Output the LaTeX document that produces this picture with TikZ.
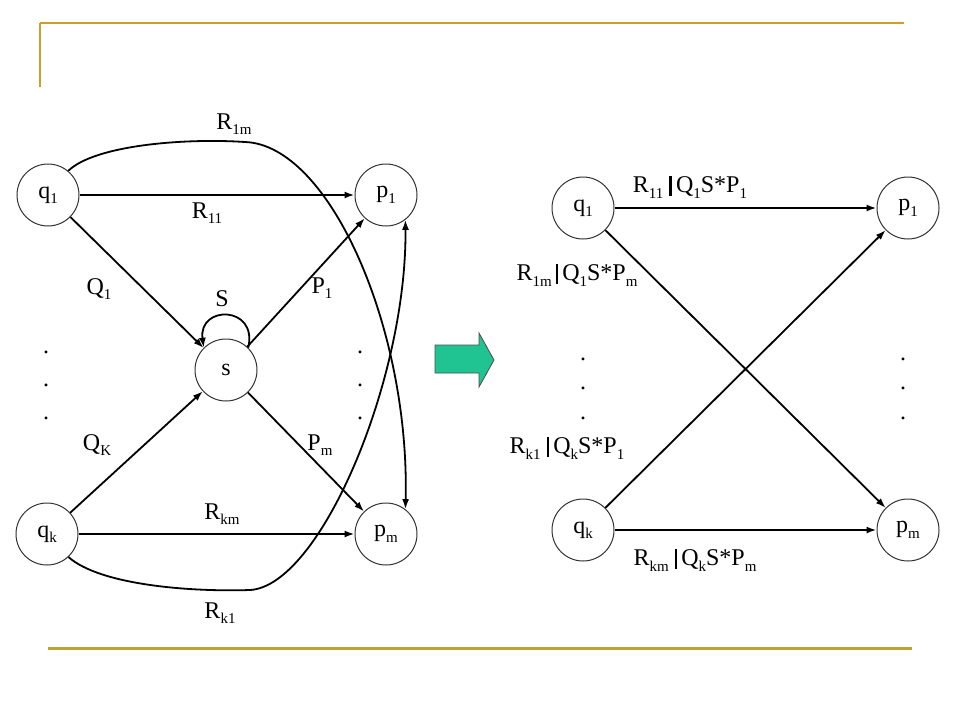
\documentclass[tikz,border=0pt]{standalone}
\usepackage{fontspec}
\setmainfont{Liberation Serif}
\usetikzlibrary{arrows.meta}
\definecolor{gold}{RGB}{201,160,40}
\definecolor{olive}{RGB}{190,162,50}
\definecolor{jade}{RGB}{32,196,146}
\newcommand{\lo}[1]{\raisebox{-0.5ex}{\fontsize{15}{15}\selectfont #1}}
\newcommand{\sepbar}{\rule[-0.15em]{2.6pt}{0.85em}}

\begin{document}
\begin{tikzpicture}[x=1pt,y=-1pt,font=\fontsize{24}{28}\selectfont,
  vertex/.style={circle,draw=black!80,line width=1pt,minimum size=62pt,inner sep=0pt},
  edge/.style={-{Latex[length=10pt,width=7pt]},line width=1.8pt}]
  \useasboundingbox (0,0) rectangle (960,720);

  % frame lines
  \draw[gold,line width=2.5pt] (40,23) -- (904,23);
  \draw[gold,line width=1.5pt] (40,23) -- (40,87);
  \draw[olive,line width=3pt] (48,648) -- (912,648);

  % left graph
  \node[vertex] (q1) at (48,195) {q\lo{1}};
  \node[vertex] (p1) at (386,195) {p\lo{1}};
  \node[vertex] (s) at (226,370) {s};
  \node[vertex] (qk) at (47,534) {q\lo{k}};
  \node[vertex] (pm) at (386,534) {p\lo{m}};

  \node (r1m) at (234,124) {R\lo{1m}};
  \node (r11) at (207,213) {R\lo{11}};
  \node (lq1) at (99,289) {Q\lo{1}};
  \node (ls) at (222,299) {S};
  \node (lp1) at (322,288) {P\lo{1}};
  \node (lqk) at (97,445) {Q\lo{K}};
  \node (lpm) at (320,445) {P\lo{m}};
  \node (rkm) at (222,514) {R\lo{km}};
  \node (rk1) at (220,613) {R\lo{k1}};

  \foreach \y [count=\i] in {352,385,418} {
    \node (dl\i) at (46,\y) {.};
    \node (dr\i) at (360,\y) {.};
  }

  \draw[edge] (q1) -- (p1);
  \draw[edge] (q1) -- (s);
  \draw[edge] (s) -- (p1);
  \draw[edge] (qk) -- (s);
  \draw[edge] (s) -- (pm);
  \draw[edge] (qk) -- (pm);
  \draw[edge] (s.45) .. controls (258,305) and (198,305) .. (s.135);
  \draw[edge] (q1.50) .. controls (95,145) and (185,138) .. (245,142)
    .. controls (330,145) and (410,330) .. (pm.52);
  \draw[edge] (qk.-47) .. controls (100,585) and (190,592) .. (250,590)
    .. controls (320,586) and (407,380) .. (p1.-52);

  % block arrow
  \draw[fill=jade,draw=black!70,line width=0.8pt] (435,345) -- (479,345) -- (479,333)
    -- (494,360) -- (479,387) -- (479,373) -- (435,373) -- cycle;

  % right graph
  \node[vertex] (q1r) at (583,208) {q\lo{1}};
  \node[vertex] (p1r) at (908,208) {p\lo{1}};
  \node[vertex] (qkr) at (583,530) {q\lo{k}};
  \node[vertex] (pmr) at (908,530) {p\lo{m}};

  \node (t11) at (690,187) {R\lo{11} \sepbar\,Q\lo{1}S*P\lo{1}};
  \node (t1m) at (577,275) {R\lo{1m}\,\sepbar\,Q\lo{1}S*P\lo{m}};
  \node (tk1) at (567,448) {R\lo{k1} \sepbar\,Q\lo{k}S*P\lo{1}};
  \node (tkm) at (695,560) {R\lo{km} \sepbar\,Q\lo{k}S*P\lo{m}};

  \foreach \y [count=\i] in {359,388,418} {
    \node (el\i) at (583,\y) {.};
    \node (er\i) at (903,\y) {.};
  }

  \draw[edge] (q1r) -- (p1r);
  \draw[edge] (q1r) -- (pmr);
  \draw[edge] (qkr) -- (p1r);
  \draw[edge] (qkr) -- (pmr);
\end{tikzpicture}
\end{document}
